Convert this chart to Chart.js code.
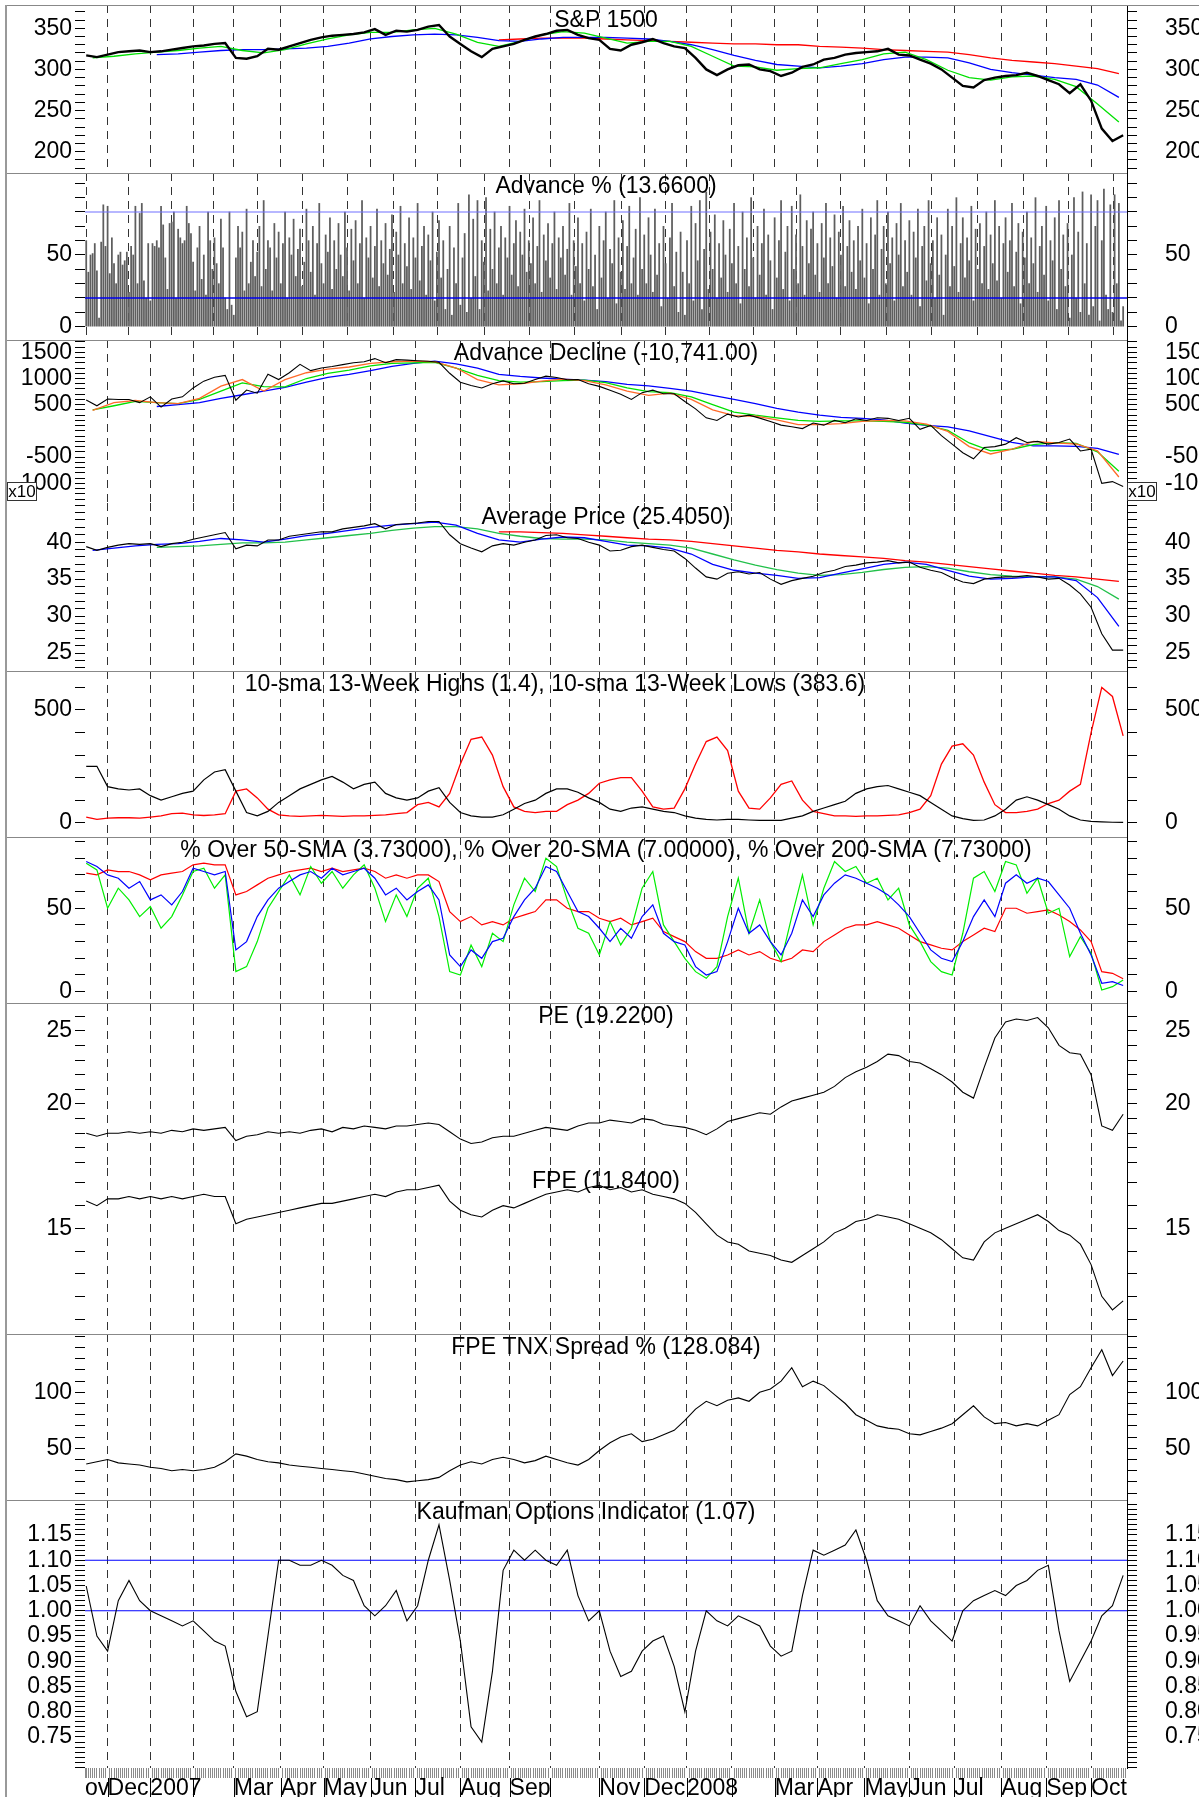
<!DOCTYPE html>
<html>
<head>
<meta charset="utf-8">
<script src="https://cdn.jsdelivr.net/npm/chart.js@4.4.1/dist/chart.umd.min.js"></script>
<style>
html, body { margin: 0; padding: 0; background: #fff; }
#wrap { position: relative; width: 1199px; height: 1797px; overflow: hidden; }
#wrap canvas { position: absolute; left: 0; }
.hl { position: absolute; height: 1px; background: #888; }
</style>
</head>
<body>
<div id="wrap"></div>
<script>
// x axis: trading days counted from 1 Nov 2006
const XMIN = 10.43, XMAX = 497.8;
const monthDays = [21, 41, 61, 80, 102, 122, 144, 165, 186, 209, 228, 251, 272, 292, 313, 333, 353, 375, 396, 417, 439, 460, 481];
const monthLabels = ['Dec', '2007', '', 'Mar', 'Apr', 'May', 'Jun', 'Jul', 'Aug', 'Sep', '', 'Nov', 'Dec', '2008', '', 'Mar', 'Apr', 'May', 'Jun', 'Jul', 'Aug', 'Sep', 'Oct'];

// S&P 1500 (weekly from day 11) and moving averages (every 10 days)
const sp = [317,315,318,321,322,323,321,322,324,326, 328,329,331,332,314,313,316,325,324,328,
  332,336,339,341,342,343,345,349,342,347, 346,348,352,354,340,331,322,315,325,328,
  331,336,340,343,347,348,342,338,336,325, 323,330,333,337,332,328,326,314,300,293,
  300,305,306,300,298,292,296,303,306,312, 314,318,320,321,322,325,318,317,312,307,
  300,290,280,278,287,290,292,293,296,292, 287,282,271,282,262,228,213,220];
const spGreen = [314,316,319,321,323,326,328,323,320,324, 331,337,342,345,345,348,350,343,333,328,
  334,342,346,344,338,332,334,334,328,316, 304,303,299,301,302,307,312,319,321,312,
  299,290,287,291,292,288,279,258,236];
const spBlue = [318,319,321,323,324,324,325,326,328,332, 337,340,342,343,342,339,335,334,337,339,
  339,339,338,337,334,330,324,317,311,306, 304,302,304,307,312,315,315,314,308,300,
  296,293,290,288,281,266];
const spRed = [336,337,338,338,338,337,336,335,334,333, 332,331,331,330,330,328,327,326,324,323,
  322,321,318,314,311,309,307,304,301,295];

// Advance % (daily from day 11)
const advPct = [
  60,38,50,51,58,39,6,59,85,56,84,37,62,44,30,50,52,43,46,52,
  24,56,50,84,30,79,86,32,20,58,18,58,56,60,55,84,71,48,26,72,
  73,80,20,68,62,58,60,84,72,65,45,25,55,70,33,50,22,80,60,40,
  62,44,30,75,55,20,12,80,15,8,48,70,55,66,25,82,30,45,60,35,
  52,70,28,88,40,60,55,25,72,48,66,30,58,80,20,62,50,75,35,54,
  68,28,45,82,60,38,70,22,58,86,44,30,64,52,76,26,60,40,72,50,
  35,80,55,25,68,46,74,30,58,88,20,62,48,70,34,56,82,28,60,44,
  72,36,54,78,24,66,50,84,30,58,42,76,26,62,48,86,32,56,70,22,
  64,46,80,18,52,74,34,60,12,40,70,8,55,30,86,15,48,65,10,92,
  20,75,35,88,12,60,45,90,25,68,40,80,30,55,70,22,62,48,84,36,
  58,74,28,66,50,82,38,60,44,76,30,56,88,24,64,46,72,34,58,80,
  26,62,48,70,36,54,86,22,60,42,76,30,58,18,66,40,82,28,50,12,
  70,34,60,80,20,54,44,88,16,62,38,74,26,56,84,30,48,68,22,90,
  40,64,30,76,50,24,82,36,58,14,70,44,20,62,86,28,52,10,66,38,
  8,60,30,84,18,72,46,88,12,54,94,26,66,40,78,20,58,34,74,50,
  24,68,44,86,30,56,16,80,40,62,28,90,48,20,70,36,58,82,22,64,
  46,12,76,34,60,88,26,52,70,18,84,40,64,30,92,56,22,74,44,68,
  80,36,58,24,72,48,86,30,62,42,78,20,66,50,84,28,56,74,38,60,
  26,70,46,82,34,58,16,76,40,64,88,22,54,70,30,80,44,62,18,72,
  50,86,28,60,38,74,22,66,48,82,14,56,70,32,88,44,60,20,76,36,
  64,8,50,82,28,70,42,90,24,58,76,34,62,46,84,18,68,40,72,30,
  56,80,26,64,44,88,32,70,20,58,76,38,60,86,28,52,72,16,66,48,
  80,30,62,44,90,24,56,70,36,84,18,60,46,76,12,88,40,64,28,72,
  6,50,90,20,66,10,94,30,58,8,92,14,70,88,4,60,96,22,12,85,
  10,92,30,86,4,14];
const advLevels = [20, 80];

// Advance Decline (x10)
const ad = [590,480,610,600,600,540,650,455,610,650, 820,950,1025,1060,585,780,720,1080,980,1110,
  1270,1150,1200,1230,1265,1300,1320,1380,1300,1360, 1350,1340,1330,1310,1100,930,865,820,900,955,
  900,910,980,1045,1020,975,980,900,850,777, 700,600,730,777,710,710,560,420,250,200,
  320,266,300,244,180,110,80,44,150,110, 200,155,230,200,250,240,200,240,30,104,
  -91,-253,-416,-533,-318,-300,-253,-130,-221,-200, -253,-221,-156,-383,-350,-1000,-968,-1060];
const adOrange = [390,540,580,540,520,620,855,980,760,980, 1110,1180,1220,1290,1320,1330,1320,1200,980,880,
  900,950,990,960,880,760,680,720,600,400, 290,280,210,120,120,140,180,200,190,130,
  -10,-300,-440,-350,-200,-230,-250,-380,-880];
const adGreen = [400,480,565,540,520,600,760,915,845,840, 1000,1100,1160,1240,1290,1300,1310,1200,1060,960,
  930,940,960,970,920,820,750,730,650,500, 360,300,250,200,180,190,190,180,165,110,
  10,-230,-380,-350,-260,-225,-240,-400,-770];
const adBlue = [466,500,540,620,690,760,830,930,1020,1080, 1150,1230,1290,1330,1280,1200,1080,1040,1010,990,
  970,940,890,860,810,760,680,600,520,430, 360,300,260,240,210,150,104,75,0,-110,
  -220,-285,-286,-295,-335,-450];

// Average Price
const avg = [39.4,38.9,39.3,39.6,39.8,39.7,39.8,39.4,39.8,40.0, 40.4,40.7,41.0,41.3,39.1,39.6,39.5,40.3,40.3,40.8,
  41.0,41.2,41.4,41.4,41.8,42.0,42.2,42.5,41.8,42.4, 42.5,42.6,42.8,42.8,41.0,39.8,39.2,38.7,39.5,39.8,
  39.6,40.0,40.3,40.9,41.0,40.6,40.5,40.0,39.6,38.8, 38.9,39.4,39.6,39.3,39.0,38.8,37.8,36.5,35.3,35.0,
  35.8,36.0,35.7,35.9,35.0,34.3,34.8,35.1,35.4,35.9, 36.2,36.7,36.9,37.2,37.3,37.5,37.2,37.3,36.6,36.2,
  35.9,35.2,34.6,34.4,35.0,35.2,35.3,35.3,35.5,35.3, 35.0,35.1,34.2,33.0,31.2,27.6,25.4,25.4];
const avgBlue = [38.9,39.2,39.5,39.7,39.8,40.1,40.5,40.3,40.0,40.4, 40.9,41.2,41.6,42.0,42.3,42.5,42.7,42.3,41.2,40.3,
  40.0,40.4,40.7,40.6,40.1,39.6,39.5,39.2,38.4,37.0, 36.2,35.8,35.5,35.1,35.2,35.8,36.4,37.0,37.3,37.0,
  36.2,35.4,35.0,35.1,35.3,35.3,34.8,32.5,28.6];
const avgGreen = [39.3,39.4,39.5,39.7,39.9,39.9,40.0,40.3,40.6,40.9, 41.2,41.6,41.9,42.1,42.1,41.8,41.2,40.8,40.5,40.4,
  40.4,40.3,40.0,39.8,39.6,39.2,38.4,37.6,36.9,36.3, 35.8,35.5,35.6,35.9,36.3,36.6,36.7,36.5,36.0,35.6,
  35.4,35.3,35.3,35.0,34.0,32.3];
const avgRed = [41.4,41.4,41.3,41.2,41.0,40.8,40.6,40.4,40.3,40.1, 39.8,39.5,39.2,38.9,38.7,38.4,38.2,38.0,37.8,37.5,
  37.3,37.0,36.7,36.4,36.1,35.8,35.5,35.3,35.0,34.7];

// 10-sma 13-week highs / lows
const hi13 = [250,250,160,150,145,150,120,100,115,130, 140,190,225,235,140,45,30,50,90,120,
  150,170,190,205,180,150,170,180,130,110, 100,110,140,155,90,45,30,25,25,35,
  60,85,100,130,150,150,135,110,90,60, 50,65,70,60,50,45,30,20,15,12,
  15,15,12,10,10,10,20,30,50,65, 80,95,130,150,160,165,150,135,120,90,
  60,30,18,10,12,30,60,100,115,100, 80,60,30,12,6,4,2,1.4];
const lo13 = [25,15,20,22,22,20,25,30,40,42, 35,32,35,40,140,150,110,60,35,30,
  28,30,32,30,28,30,30,32,35,40, 45,80,90,70,130,260,370,380,300,160,
  70,50,45,50,50,80,100,130,175,190, 200,200,140,70,60,65,150,260,360,380,
  320,140,65,60,110,170,185,100,50,40, 30,30,28,30,30,32,35,45,60,120,
  260,340,350,300,180,80,45,45,50,60, 85,100,140,170,400,600,560,385];

// % over moving averages
const over50 = [78,75,70,68,62,66,55,58,52,60, 74,72,70,72,25,30,45,55,62,66,
  70,72,68,74,70,72,74,68,58,62, 55,60,64,55,22,15,25,20,30,32,
  45,55,62,75,72,60,48,45,38,30, 38,32,45,52,35,30,28,15,10,12,
  30,50,35,40,30,22,35,55,45,58, 65,70,68,65,62,58,52,45,35,25,
  20,18,30,45,55,45,65,70,65,68, 66,58,50,35,22,5,6,3.7];
const over20 = [77,73,50,62,55,45,51,38,45,58, 72,74,62,70,12,15,30,50,60,70,
  58,75,65,72,62,70,76,62,42,58, 45,62,68,45,12,10,28,15,35,30,
  52,68,60,80,75,55,38,35,22,42, 28,38,62,72,40,30,20,12,8,15,
  45,68,35,55,30,18,45,70,40,62, 78,72,75,65,68,55,62,40,30,18,
  12,10,35,68,72,60,78,76,59,68, 47,50,21,33,23,1,3,7];
const over200 = [71,70,73,72,72,70,67,70,71,72, 76,77,76,76,58,60,64,68,70,72,
  73,74,72,74,72,73,74,72,68,70, 68,70,70,66,48,42,45,40,42,40,
  44,46,48,55,55,50,48,48,44,42, 44,40,42,44,36,33,30,24,20,20,
  22,25,22,24,20,18,20,25,24,30, 34,38,40,40,42,40,38,34,30,28,
  26,25,30,34,38,36,50,50,47,48, 49,46,42,37,30,12,11,7.7];

// PE and FPE
const pe = [18.0,17.8,18.0,18.0,18.1,18.0,18.1,18.0,18.2,18.1, 18.3,18.2,18.3,18.4,17.5,17.8,17.9,18.1,18.0,18.1,
  18.0,18.2,18.3,18.1,18.4,18.3,18.5,18.4,18.3,18.5, 18.5,18.6,18.7,18.6,18.1,17.6,17.3,17.4,17.7,17.8,
  17.8,18.0,18.2,18.4,18.3,18.2,18.5,18.7,18.7,18.9, 18.8,18.7,19.0,18.9,18.6,18.5,18.4,18.2,17.9,18.3,
  18.8,19.0,19.2,19.4,19.3,19.8,20.2,20.4,20.6,20.8, 21.2,21.8,22.2,22.5,22.9,23.4,23.3,22.9,22.8,22.4,
  22.0,21.5,20.8,20.4,22.5,24.5,25.6,25.8,25.7,25.9, 25.2,24.0,23.5,23.4,22.0,18.5,18.2,19.3];
const fpe = [16.2,16.0,16.3,16.3,16.4,16.3,16.4,16.3,16.4,16.3, 16.4,16.5,16.4,16.4,15.2,15.4,15.5,15.6,15.7,15.8,
  15.9,16.0,16.1,16.1,16.2,16.3,16.4,16.5,16.4,16.6, 16.7,16.7,16.8,16.9,16.2,15.8,15.6,15.5,15.8,16.0,
  15.9,16.1,16.3,16.5,16.6,16.7,16.6,16.8,16.9,16.7, 16.8,16.6,16.7,16.5,16.4,16.3,16.1,15.7,15.2,14.7,
  14.4,14.3,14.0,13.9,13.8,13.6,13.5,13.8,14.1,14.4, 14.8,15.0,15.3,15.4,15.6,15.5,15.4,15.2,15.0,14.8,
  14.5,14.1,13.7,13.6,14.4,14.8,15.0,15.2,15.4,15.6, 15.3,14.9,14.7,14.3,13.4,12.0,11.4,11.8];

// FPE TNX Spread %
const spread = [36,38,40,37,36,35,33,32,30,31, 30,31,33,38,45,43,40,38,37,35,
  34,33,32,31,30,29,27,25,23,22, 20,21,22,24,30,35,38,36,40,42,
  40,37,39,43,40,37,35,40,48,55, 60,63,56,58,62,66,75,85,92,88,
  93,95,92,100,103,110,122,105,110,106, 98,90,80,75,70,68,67,63,62,65,
  68,72,80,88,78,72,73,70,72,70, 75,80,98,105,122,138,115,128];

// Kaufman Options Indicator
const kauf = [1.049,0.95,0.92,1.02,1.06,1.02,1.00,0.99,0.98,0.97, 0.98,0.96,0.94,0.93,0.84,0.79,0.80,0.95,1.10,1.10,
  1.09,1.09,1.10,1.09,1.07,1.06,1.01,0.99,1.01,1.04, 0.98,1.01,1.10,1.17,1.06,0.94,0.77,0.74,0.88,1.08,
  1.12,1.10,1.12,1.10,1.09,1.12,1.03,0.98,1.00,0.92, 0.87,0.88,0.92,0.94,0.95,0.89,0.80,0.92,1.00,0.98,
  0.97,0.99,0.98,0.97,0.93,0.91,0.92,1.03,1.12,1.11, 1.12,1.13,1.16,1.10,1.02,0.99,0.98,0.97,1.01,0.98,
  0.96,0.94,1.00,1.02,1.03,1.04,1.03,1.05,1.06,1.08, 1.09,0.96,0.86,0.90,0.94,0.99,1.01,1.07];
const kaufLevels = [1.00, 1.10];

const FONT = "'Liberation Sans', Arial, Helvetica, sans-serif";
const FSIZE = 23;
Chart.defaults.font.family = FONT;
Chart.defaults.font.size = FSIZE;
Chart.defaults.color = '#000';

const wrap = document.getElementById('wrap');
const isMonth = v => monthDays.includes(v);

function pts(start, step, vals) {
    return vals.map((v, i) => ({ x: start + i * step, y: v }));
}

function level(v) {
    return [{ x: XMIN, y: v }, { x: XMAX, y: v }];
}

function line(data, color, width) {
    return { type: 'line', data, borderColor: color, borderWidth: width || 1.2, pointRadius: 0, fill: false, tension: 0, yAxisID: 'yL' };
}

// no auto padding from tick labels: panels must fill their boxes exactly
function noPad(s) {
    s.paddingTop = 0; s.paddingBottom = 0; s.paddingLeft = 0; s.paddingRight = 0;
}

function yAxis(side, cfg) {
    const vals = [];
    for (let k = Math.ceil(cfg.from / cfg.step - 1e-9); k * cfg.step <= cfg.to + 1e-9; k++) {
        vals.push(Math.round(k * cfg.step * 1e6) / 1e6);
    }
    const fmt = cfg.fmt || (v => String(v));
    return {
        type: 'linear', position: side, min: cfg.min, max: cfg.max, bounds: 'data',
        afterBuildTicks: s => { s.ticks = vals.map(v => ({ value: v })); },
        afterFit: s => { s.width = side === 'left' ? 85 : 72; noPad(s); },
        grid: { drawOnChartArea: false, color: '#000', tickLength: 10, lineWidth: 1 },
        border: { display: side === 'right', color: '#000', width: 1 },
        ticks: {
            autoSkip: false, padding: side === 'left' ? 3 : 28,
            callback: v => {
                const r = v / cfg.major;
                if (Math.abs(r - Math.round(r)) > 1e-6) return '';
                if (cfg.skip && cfg.skip.some(s => Math.abs(s - v) < 1e-6)) return '';
                return fmt(v);
            }
        }
    };
}

function xAxis() {
    return {
        type: 'linear', min: XMIN, max: XMAX, offset: false,
        afterBuildTicks: s => { s.ticks = monthDays.map(v => ({ value: v })); },
        afterFit: s => { s.height = 0; noPad(s); },
        grid: { color: '#333', drawTicks: false, lineWidth: 1 },
        border: { display: false, dash: [8, 6] },
        ticks: { display: false }
    };
}

function xBottom() {
    const days = [XMIN];
    for (let d = 11; d <= 497; d++) days.push(d);
    return {
        type: 'linear', min: XMIN, max: XMAX, offset: false,
        afterBuildTicks: s => { s.ticks = days.map(v => ({ value: v })); },
        afterFit: s => { s.height = 29; noPad(s); },
        grid: {
            color: c => isMonth(c.tick.value) ? '#333' : 'transparent',
            tickColor: c => isMonth(c.tick.value) ? 'transparent' : '#8a8a8a',
            tickLength: 10, lineWidth: 1
        },
        border: { display: false, dash: [8, 6] },
        ticks: {
            autoSkip: false, maxRotation: 0, minRotation: 0, align: 'start', padding: -3,
            callback: v => {
                if (v === XMIN) return 'ov';
                const i = monthDays.indexOf(v);
                return i >= 0 ? monthLabels[i] : '';
            }
        }
    };
}

function titlePlugin(text, dy, cx) {
    return {
        id: 'panelTitle',
        afterDraw(c) {
            const ctx = c.ctx;
            ctx.save();
            ctx.font = FSIZE + 'px ' + FONT;
            ctx.fillStyle = '#000';
            ctx.textAlign = 'center';
            ctx.textBaseline = 'middle';
            ctx.fillText(text, cx || (c.chartArea.left + c.chartArea.right) / 2, dy || 14);
            ctx.restore();
        }
    };
}

const x10Plugin = {
    id: 'x10',
    afterDraw(c) {
        const ctx = c.ctx;
        ctx.save();
        ctx.font = '17px ' + FONT;
        ctx.textBaseline = 'middle';
        ctx.textAlign = 'center';
        [[7, 29], [1127, 29]].forEach(([x, w]) => {
            ctx.fillStyle = '#fff';
            ctx.fillRect(x + 0.5, 142.5, w, 18);
            ctx.strokeStyle = '#333';
            ctx.lineWidth = 1;
            ctx.strokeRect(x + 0.5, 142.5, w, 18);
            ctx.fillStyle = '#000';
            ctx.fillText('x10', x + w / 2 + 0.5, 152);
        });
        ctx.restore();
    }
};

const monthSepPlugin = {
    id: 'monthSep',
    afterDraw(c) {
        const ctx = c.ctx, sx = c.scales.x;
        ctx.save();
        ctx.strokeStyle = '#000';
        ctx.lineWidth = 1;
        monthDays.forEach(d => {
            const px = Math.round(sx.getPixelForValue(d)) + 0.5;
            ctx.beginPath();
            ctx.moveTo(px, c.chartArea.bottom + 10);
            ctx.lineTo(px, c.height);
            ctx.stroke();
        });
        ctx.restore();
    }
};

function panel(top, height, datasets, y, title, extra) {
    extra = extra || {};
    const cv = document.createElement('canvas');
    cv.width = 1199;
    cv.height = height;
    cv.style.top = top + 'px';
    wrap.appendChild(cv);
    return new Chart(cv, {
        type: 'line',
        data: { datasets },
        options: {
            responsive: false, animation: false, devicePixelRatio: 1, events: [],
            layout: { padding: 0, autoPadding: false },
            plugins: { legend: { display: false }, tooltip: { enabled: false } },
            scales: { x: extra.x || xAxis(), yL: yAxis('left', y), yR: yAxis('right', y) }
        },
        plugins: [titlePlugin(title, extra.titleY, extra.titleX)].concat(extra.plugins || [])
    });
}

// 1: S&P 1500
panel(5, 168, [
    line(pts(11, 5, sp), '#000', 2.4),
    line(pts(14, 10, spGreen), '#00e000', 1.3),
    line(pts(44, 10, spBlue), '#0000ff', 1.3),
    line(pts(204, 10, spRed), '#ff0000', 1.3)
], { min: 174.1, max: 378.3, from: 180, to: 370, step: 10, major: 50 }, 'S&P 1500', { titleY: 16 });

// 2: Advance %
panel(173, 167, [
    line(level(advLevels[1]), '#7070ff', 1.2),
    line(level(advLevels[0]), '#0000ee', 1.5),
    { type: 'bar', data: pts(11, 1, advPct), backgroundColor: '#5e5e5e', barThickness: 1.1, yAxisID: 'yL' }
], { min: -9.3, max: 107.2, from: 0, to: 100, step: 10, major: 50, skip: [100] }, 'Advance % (13.6600)');

// 3: Advance Decline
panel(340, 163, [
    line(pts(11, 5, ad), '#000', 1.1),
    line(pts(14, 10, adOrange), '#ff6a2a', 1.3),
    line(pts(14, 10, adGreen), '#00e000', 1.3),
    line(pts(44, 10, adBlue), '#0000ff', 1.3)
], { min: -1376, max: 1735, from: -1300, to: 1700, step: 100, major: 500, skip: [0] }, 'Advance Decline (-10,741.00)', { plugins: [x10Plugin] });

// 4: Average Price
panel(503, 168, [
    line(pts(11, 5, avg), '#000', 1.1),
    line(pts(14, 10, avgBlue), '#0000ff', 1.3),
    line(pts(44, 10, avgGreen), '#22c04a', 1.3),
    line(pts(204, 10, avgRed), '#ff0000', 1.3)
], { min: 22.57, max: 45.3, from: 23, to: 45, step: 1, major: 5, skip: [45] }, 'Average Price (25.4050)', { titleY: 15 });

// 5: 13-week highs / lows
panel(671, 166, [
    line(pts(11, 5, hi13), '#000', 1.2),
    line(pts(11, 5, lo13), '#ff0000', 1.3)
], { min: -63.5, max: 673, from: 0, to: 600, step: 100, major: 500 }, '10-sma 13-Week Highs (1.4), 10-sma 13-Week Lows (383.6)', { titleX: 555 });

// 6: % over SMAs
panel(837, 166, [
    line(pts(11, 5, over50), '#0000ff', 1.2),
    line(pts(11, 5, over20), '#00ee00', 1.2),
    line(pts(11, 5, over200), '#ff0000', 1.2)
], { min: -6.8, max: 92.7, from: 0, to: 90, step: 10, major: 50 }, '% Over 50-SMA (3.73000), % Over 20-SMA (7.00000), % Over 200-SMA (7.73000)');

// 7: PE
panel(1003, 165, [
    line(pts(11, 5, pe), '#000', 1.1)
], { min: 15.63, max: 26.89, from: 16, to: 26, step: 1, major: 5 }, 'PE (19.2200)');

// 7b: FPE
panel(1168, 166, [
    line(pts(11, 5, fpe), '#000', 1.1)
], { min: 10.34, max: 17.66, from: 11, to: 17, step: 1, major: 5 }, 'FPE (11.8400)');

// 8: FPE TNX Spread
panel(1334, 166, [
    line(pts(11, 5, spread), '#000', 1.1)
], { min: 3.8, max: 152.1, from: 10, to: 150, step: 10, major: 50, skip: [150] }, 'FPE TNX Spread % (128.084)');

// 9: Kaufman Options Indicator + date axis
panel(1500, 297, [
    line(pts(11, 5, kauf), '#000', 1.1),
    line(level(kaufLevels[1]), '#0000ff', 1.2),
    line(level(kaufLevels[0]), '#0000ff', 1.2)
], { min: 0.6886, max: 1.2193, from: 0.69, to: 1.21, step: 0.01, major: 0.05, skip: [0.7, 1.2], fmt: v => v.toFixed(2) },
   'Kaufman Options Indicator (1.07)', { x: xBottom(), titleY: 13, titleX: 586, plugins: [monthSepPlugin] });

// panel frame lines
function hline(y, x0, x1) {
    const d = document.createElement('div');
    d.className = 'hl';
    d.style.top = y + 'px';
    d.style.left = x0 + 'px';
    d.style.width = (x1 - x0) + 'px';
    wrap.appendChild(d);
}
hline(5, 6, 1199);
[173, 340, 671, 837, 1003, 1334, 1500].forEach(y => hline(y, 6, 1127));
const lb = document.createElement('div');
lb.style.cssText = 'position:absolute;left:5px;top:5px;width:2px;height:1792px;background:#999;';
wrap.appendChild(lb);
</script>
</body>
</html>
